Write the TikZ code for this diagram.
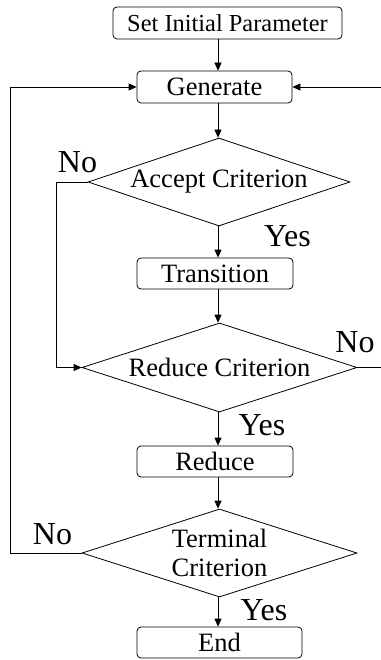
\documentclass[tikz,border=0pt]{standalone}
\usepackage{fontspec}
\setmainfont{Liberation Serif}
\usetikzlibrary{arrows.meta,shapes.geometric}
\begin{document}
\begin{tikzpicture}[x=1pt,y=-1pt,
  line width=0.8pt,
  arr/.style={-{Triangle[length=8pt,width=7pt]}},
  procbox/.style={draw, rounded corners=4pt, inner sep=0pt, font=\fontsize{26.5}{29}\selectfont},
  decide/.style={draw, diamond, aspect=3, inner sep=0pt, align=center, font=\fontsize{26.5}{29}\selectfont},
  lbl/.style={anchor=base, inner sep=0pt, font=\fontsize{32}{34}\selectfont}]
\useasboundingbox (0,0) rectangle (380,660);
\fill[white] (0,0) rectangle (380,660);
\coordinate (ax) at (218,0);
\coordinate (lx1) at (56,0);
\coordinate (lx2) at (10,0);
\coordinate (rx) at (383,0);

\node[procbox, minimum width=229pt, minimum height=32pt, font=\fontsize{24.4}{27}\selectfont] (set) at (227.5,23) {Set Initial Parameter};
\node[procbox, minimum width=155pt, minimum height=32pt] (gen) at (214.5,87) {Generate};
\node[decide, minimum width=262pt, minimum height=88pt] (acc) at (219,182) {Accept Criterion};
\node[procbox, minimum width=156pt, minimum height=31pt] (trans) at (215,273.5) {Transition};
\node[decide, minimum width=275pt, minimum height=89pt] (red) at (219.5,367.5) {Reduce Criterion};
\node[procbox, minimum width=156pt, minimum height=31pt] (redbox) at (215,461.5) {Reduce};
\node[decide, minimum width=275pt, minimum height=88pt] (term) at (219.5,553) {Terminal\\Criterion};
\node[procbox, minimum width=165pt, minimum height=31pt] (end) at (219.5,642.5) {End};

\node[lbl] (no1) at (77.5,173) {No};
\node[lbl] (yes1) at (287.5,246) {Yes};
\node[lbl] (no2) at (355,352) {No};
\node[lbl] (yes2) at (262,435) {Yes};
\node[lbl] (no3) at (52.5,544) {No};
\node[lbl] (yes3) at (264,620) {Yes};

\draw[arr] (set.south -| ax) -- (gen.north -| ax);
\draw[arr] (gen.south -| ax) -- (acc.north -| ax);
\draw[arr] (acc.south -| ax) -- (trans.north -| ax);
\draw[arr] (trans.south -| ax) -- (red.north -| ax);
\draw[arr] (red.south -| ax) -- (redbox.north -| ax);
\draw[arr] (redbox.south -| ax) -- (term.north -| ax);
\draw[arr] (term.south -| ax) -- (end.north -| ax);

\draw[arr] (acc.west) -- (acc.west -| lx1) -- (lx1 |- red.west) -- (red.west);
\draw[arr] (red.east) -- (red.east -| rx) -- (rx |- gen.east) -- (gen.east);
\draw[arr] (term.west) -- (term.west -| lx2) -- (lx2 |- gen.west) -- (gen.west);
\end{tikzpicture}
\end{document}
